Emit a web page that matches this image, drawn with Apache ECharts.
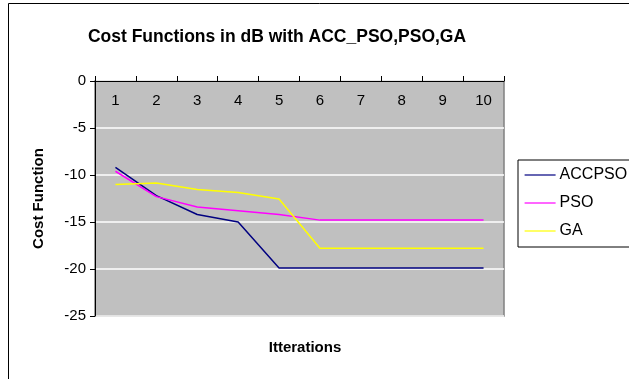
<!DOCTYPE html>
<html>
<head>
<meta charset="utf-8">
<script src="https://cdn.jsdelivr.net/npm/echarts@6/dist/echarts.min.js"></script>
<style>
  html, body { margin: 0; padding: 0; background: #fff; }
  #chart { width: 629px; height: 379px; }
</style>
</head>
<body>
<div id="chart"></div>
<script>
// iterations 1..10
const iterations = ["1", "2", "3", "4", "5", "6", "7", "8", "9", "10"];
const accpso = [-9.2, -12.2, -14.2, -15.0, -19.9, -19.9, -19.9, -19.9, -19.9, -19.9];
const pso = [-9.6, -12.3, -13.4, -13.8, -14.2, -14.8, -14.8, -14.8, -14.8, -14.8];
const ga = [-11.0, -10.85, -11.55, -11.85, -12.55, -17.8, -17.8, -17.8, -17.8, -17.8];
const yTicks = { min: -25, max: 0, step: 5 };

const font = "'Liberation Sans', Arial, sans-serif";

function lineSeries(name, data, color) {
  return {
    name: name,
    type: "line",
    data: data,
    symbol: "none",
    lineStyle: { color: color, width: 1.5 },
    itemStyle: { color: color }
  };
}

const option = {
  animation: false,
  backgroundColor: "#fff",
  textStyle: { fontFamily: font },
  title: [
    {
      text: "Cost Functions in dB with ACC_PSO,PSO,GA",
      left: 272,
      top: 23,
      textAlign: "center",
      textStyle: { fontSize: 17.5, fontWeight: "bold", color: "#000", fontFamily: font }
    },
    {
      text: "Itterations",
      left: 300,
      top: 335,
      textAlign: "center",
      textStyle: { fontSize: 15, fontWeight: "bold", color: "#000", fontFamily: font }
    }
  ],
  graphic: [
    {
      type: "rect",
      shape: { x: 8.5, y: 3.5, width: 700, height: 420 },
      style: { fill: "none", stroke: "#000", lineWidth: 1 },
      silent: true
    }
  ],
  legend: {
    orient: "vertical",
    left: 518,
    top: 160,
    padding: [7, 30, 8, 6],
    itemWidth: 31,
    itemHeight: 10,
    itemGap: 12,
    borderColor: "#000",
    borderWidth: 1,
    backgroundColor: "#fff",
    itemStyle: { opacity: 0 },
    lineStyle: { width: 1.2 },
    textStyle: { fontSize: 16, color: "#000", fontFamily: font, padding: [0, 0, 0, -1] },
    data: ["ACCPSO", "PSO", "GA"]
  },
  grid: {
    left: 95,
    right: 125,
    top: 81,
    bottom: 63,
    show: true,
    backgroundColor: "#c0c0c0",
    borderColor: "#808080",
    borderWidth: 1.5
  },
  xAxis: {
    type: "category",
    position: "top",
    data: iterations,
    boundaryGap: true,
    axisLine: { lineStyle: { color: "#000", width: 1 } },
    axisTick: { show: true, length: 5, lineStyle: { color: "#000" } },
    axisLabel: { inside: true, margin: 12, fontSize: 15, color: "#000", fontFamily: font },
    splitLine: { show: false }
  },
  yAxis: {
    type: "value",
    min: yTicks.min,
    max: yTicks.max,
    interval: yTicks.step,
    name: "Cost Function",
    nameLocation: "middle",
    nameGap: 49,
    nameTextStyle: { fontSize: 15, fontWeight: "bold", color: "#000", fontFamily: font },
    axisLine: { show: true, lineStyle: { color: "#000", width: 1 } },
    axisTick: { show: true, length: 5, lineStyle: { color: "#000" } },
    axisLabel: { margin: 9, fontSize: 15, color: "#000", fontFamily: font },
    splitLine: { show: true, lineStyle: { color: "#ffffff", width: 1.5 } }
  },
  series: [
    lineSeries("ACCPSO", accpso, "#000080"),
    lineSeries("PSO", pso, "#ff00ff"),
    lineSeries("GA", ga, "#ffff00")
  ]
};

const chart = echarts.init(document.getElementById("chart"), null, { renderer: "canvas" });
chart.setOption(option);
</script>
</body>
</html>
